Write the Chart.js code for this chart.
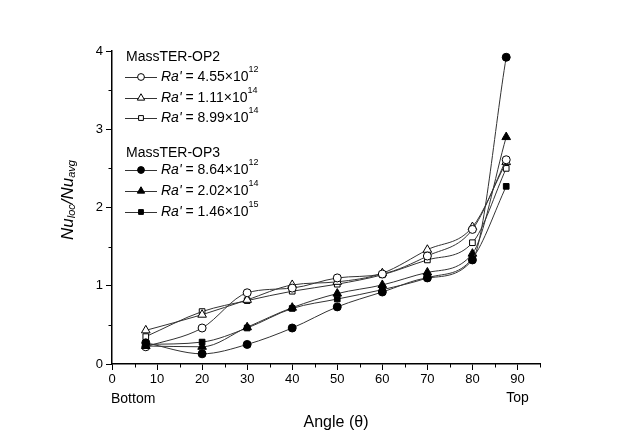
<!DOCTYPE html>
<html>
<head>
<meta charset="utf-8">
<script src="https://cdn.jsdelivr.net/npm/chart.js@4/dist/chart.umd.min.js"></script>
<style>
  html, body { margin: 0; padding: 0; background: #fff; }
  #wrap { width: 625px; height: 437px; }
</style>
</head>
<body>
<div id="wrap"><canvas id="nu-chart" width="625" height="437"></canvas></div>
<script>
// DATA
const angles = [7.5, 20, 30, 40, 50, 60, 70, 80, 87.5];

const op2_455e12 = [0.22, 0.46, 0.91, 0.97, 1.10, 1.15, 1.38, 1.72, 2.61];
const op2_111e14 = [0.43, 0.63, 0.82, 1.01, 1.05, 1.16, 1.46, 1.75, 2.58];
const op2_899e14 = [0.35, 0.67, 0.81, 0.93, 1.02, 1.14, 1.33, 1.55, 2.50];

const op3_864e12 = [0.27, 0.13, 0.25, 0.46, 0.73, 0.92, 1.10, 1.33, 3.92];
const op3_202e14 = [0.23, 0.22, 0.47, 0.72, 0.90, 1.01, 1.17, 1.41, 2.90];
const op3_146e15 = [0.25, 0.28, 0.46, 0.71, 0.83, 0.95, 1.10, 1.35, 2.27];

const xTicks = [0, 10, 20, 30, 40, 50, 60, 70, 80, 90];
const yTicks = [0, 1, 2, 3, 4];

const FONT = '"Liberation Sans", Arial, sans-serif';

function pts(vals) {
  return vals.map((v, i) => ({ x: angles[i], y: v }));
}

function serie(label, vals, style, filled) {
  return {
    label: label,
    data: pts(vals),
    borderColor: "#333",
    borderWidth: 1,
    cubicInterpolationMode: "monotone",
    pointStyle: style,
    pointRadius: style === "triangle" ? 5 : 4,
    pointBorderColor: "#000",
    pointBorderWidth: 1,
    pointBackgroundColor: filled ? "#000" : "#fff",
    fill: false,
  };
}

const datasets = [
  serie("8.64", op3_864e12, "circle", true),
  serie("2.02", op3_202e14, "triangle", true),
  serie("1.46", op3_146e15, "rect", true),
  serie("4.55", op2_455e12, "circle", false),
  serie("1.11", op2_111e14, "triangle", false),
  serie("8.99", op2_899e14, "rect", false),
];

// legend rows: group title, then [dataset index, mantissa, exponent, y]
const legendGroups = [
  { title: "MassTER-OP2", y: 57, rows: [[3, "4.55", "12", 77], [4, "1.11", "14", 98], [5, "8.99", "14", 118]] },
  { title: "MassTER-OP3", y: 153, rows: [[0, "8.64", "12", 170], [1, "2.02", "14", 191], [2, "1.46", "15", 212]] },
];

const extras = {
  id: "extras",
  afterDraw(chart) {
    const ctx = chart.ctx;
    const xs = chart.scales.x;
    const ys = chart.scales.y;
    const area = chart.chartArea;
    ctx.save();
    ctx.fillStyle = "#000";
    ctx.strokeStyle = "#000";

    // minor ticks
    ctx.lineWidth = 1;
    ctx.beginPath();
    for (let v = 5; v <= 95; v += 10) {
      const px = Math.round(xs.getPixelForValue(v)) + 0.5;
      ctx.moveTo(px, area.bottom);
      ctx.lineTo(px, area.bottom + 3.5);
    }
    for (let v = 0.5; v < 4; v += 1) {
      const py = Math.round(ys.getPixelForValue(v)) + 0.5;
      ctx.moveTo(area.left, py);
      ctx.lineTo(area.left - 3.5, py);
    }
    ctx.stroke();

    // bottom / top labels
    ctx.font = "14px " + FONT;
    ctx.textBaseline = "middle";
    ctx.textAlign = "left";
    ctx.fillText("Bottom", 111, 399);
    ctx.textAlign = "center";
    ctx.fillText("Top", xs.getPixelForValue(90), 398);

    // x title
    ctx.font = "16px " + FONT;
    ctx.fillText("Angle (\u03b8)", 336, 423);

    // y title
    ctx.save();
    ctx.translate(68, 200);
    ctx.rotate(-Math.PI / 2);
    const parts = [["Nu", 17, 0], ["loc", 11, 4], ["/Nu", 17, 0], ["avg", 11, 4]];
    let total = 0;
    parts.forEach(p => { ctx.font = "italic " + p[1] + "px " + FONT; total += ctx.measureText(p[0]).width; });
    let cx = -total / 2;
    ctx.textAlign = "left";
    parts.forEach(p => {
      ctx.font = "italic " + p[1] + "px " + FONT;
      ctx.fillText(p[0], cx, p[2]);
      cx += ctx.measureText(p[0]).width;
    });
    ctx.restore();

    // legend
    legendGroups.forEach(g => {
      ctx.textAlign = "left";
      ctx.font = "14px " + FONT;
      ctx.fillStyle = "#000";
      ctx.fillText(g.title, 126, g.y);
      g.rows.forEach(r => {
        const ds = chart.data.datasets[r[0]];
        const y = r[3];
        ctx.strokeStyle = "#333";
        ctx.lineWidth = 1;
        ctx.beginPath();
        ctx.moveTo(125, y + 0.5);
        ctx.lineTo(157, y + 0.5);
        ctx.stroke();
        ctx.fillStyle = ds.pointBackgroundColor;
        ctx.strokeStyle = "#000";
        Chart.helpers.drawPoint(ctx, {
          pointStyle: ds.pointStyle,
          radius: ds.pointRadius * 0.85,
          rotation: 0,
          borderWidth: 1,
        }, 141, y);
        ctx.fillStyle = "#000";
        let tx = 161;
        ctx.font = "italic 14px " + FONT;
        ctx.fillText("Ra'", tx, y);
        tx += ctx.measureText("Ra'").width;
        ctx.font = "14px " + FONT;
        const mid = " = " + r[1] + "\u00d710";
        ctx.fillText(mid, tx, y);
        tx += ctx.measureText(mid).width;
        ctx.font = "9px " + FONT;
        ctx.fillText(r[2], tx, y - 7);
      });
    });
    ctx.restore();
  },
};

const containerChart = document.querySelector("#nu-chart").getContext("2d");

const nuChart = new Chart(containerChart, {
  type: "line",
  data: { datasets: datasets },
  options: {
    responsive: false,
    animation: false,
    layout: { padding: { left: 0, top: 51, right: 85, bottom: 0 } },
    plugins: { legend: { display: false }, tooltip: { enabled: false } },
    scales: {
      x: {
        type: "linear",
        min: 0,
        max: 95,
        afterBuildTicks: (s) => { s.ticks = xTicks.map(v => ({ value: v })); },
        afterFit: (s) => { s.height = 73; },
        border: { display: true, color: "#000", width: 1.5 },
        grid: { drawOnChartArea: false, drawTicks: true, tickLength: 6, tickColor: "#000", tickWidth: 1 },
        ticks: { color: "#000", font: { family: FONT, size: 13 }, padding: 2, maxRotation: 0 },
      },
      y: {
        type: "linear",
        min: 0,
        max: 4,
        afterBuildTicks: (s) => { s.ticks = yTicks.map(v => ({ value: v })); },
        afterFit: (s) => { s.width = 112; },
        border: { display: true, color: "#000", width: 1.5 },
        grid: { drawOnChartArea: false, drawTicks: true, tickLength: 6, tickColor: "#000", tickWidth: 1 },
        ticks: { color: "#000", font: { family: FONT, size: 13 }, padding: 3 },
      },
    },
  },
  plugins: [extras],
});
</script>
</body>
</html>
